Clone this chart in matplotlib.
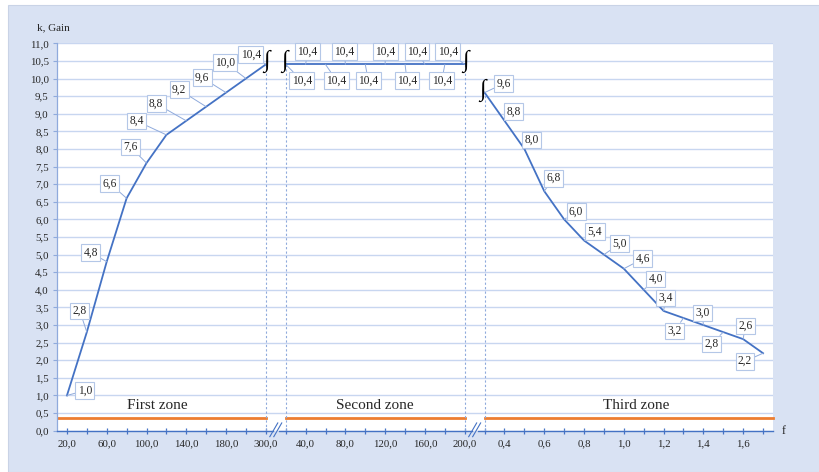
import matplotlib
matplotlib.use("Agg")
import matplotlib.pyplot as plt
from matplotlib.patches import Rectangle

# data: three frequency zones on one category axis
zone1_f = [20, 40, 60, 80, 100, 120, 140, 160, 180, 200, 300]
zone1_k = [1.0, 2.8, 4.8, 6.6, 7.6, 8.4, 8.8, 9.2, 9.6, 10.0, 10.4]
zone2_f = [20, 40, 60, 80, 100, 120, 140, 160, 180, 200]
zone2_k = [10.4, 10.4, 10.4, 10.4, 10.4, 10.4, 10.4, 10.4, 10.4, 10.4]
zone3_f = [0.3, 0.4, 0.5, 0.6, 0.7, 0.8, 0.9, 1.0, 1.1, 1.2, 1.3, 1.4, 1.5, 1.6, 1.7]
zone3_k = [9.6, 8.8, 8.0, 6.8, 6.0, 5.4, 5.0, 4.6, 4.0, 3.4, 3.2, 3.0, 2.8, 2.6, 2.2]
zone_names = ["First zone", "Second zone", "Third zone"]
zone_level = 0.37

# label offsets in pixels (dx, dy up)
off1 = [(18, 5), (-7, 21), (-16, 9), (-17, 15), (-16, 16), (-30, 14),
        (-30, 17), (-27, 17), (-24, 15), (-21, 16), (-15, 10)]
off2 = [(16, -16), (2, 13), (11, -16), (-1, 13), (3, -16), (0, 13),
        (2, -16), (-8, 13), (-3, -16), (-17, 13)]
off3 = [(19, 9), (9, 9), (7, 9), (9, 13), (12, 8), (11, 9), (16, 11),
        (19, 10), (12, 11), (2, 13), (-9, -13), (-1, 12), (-12, -12),
        (2, 13), (-18, -8)]

BLUE = "#4472C4"
LIGHT = "#8FAADC"
GRID = "#C8D6F0"
ORANGE = "#ED7D31"
TXT = "#262626"
SERIF = ["Liberation Serif", "DejaVu Serif"]


def fmt(v):
    return f"{v:.1f}".replace(".", ",")


plt.rcParams["font.family"] = SERIF

fig = plt.figure(figsize=(8.2, 4.72), dpi=100, facecolor="white")
fig.patches.append(Rectangle((8 / 820, 0), 1, 467 / 472, transform=fig.transFigure,
                             facecolor="#D9E2F3", edgecolor="#C9D3E6", lw=0.8, zorder=-1))
ax = fig.add_axes([57 / 820, 41.3 / 472, 716 / 820, 387.4 / 472])
ax.set_facecolor("white")

n1, n2, n3 = len(zone1_f), len(zone2_f), len(zone3_f)
x1 = list(range(n1))
x2 = list(range(n1, n1 + n2))
x3 = list(range(n1 + n2, n1 + n2 + n3))
cats = [fmt(v) for v in zone1_f + zone2_f + zone3_f]

ax.set_xlim(-0.5, len(cats) - 0.5)
ax.set_ylim(0, 11)

# grid
ax.set_yticks([i * 0.5 for i in range(23)])
ax.set_yticklabels([fmt(i * 0.5) for i in range(23)], fontsize=7.8, color=TXT)
ax.yaxis.grid(True, color=GRID, lw=1.0)
ax.set_axisbelow(True)

ax.set_xticks(range(len(cats)))
ax.set_xticklabels([c if i % 2 == 0 else "" for i, c in enumerate(cats)],
                   fontsize=7.8, color=TXT)
ax.tick_params(axis="x", direction="inout", length=5, color=BLUE, width=0.9, pad=4)
ax.tick_params(axis="y", direction="out", length=3, color=LIGHT, width=0.8, pad=3)

for s in ["top", "right", "bottom"]:
    ax.spines[s].set_visible(False)
ax.spines["left"].set_color(LIGHT)
ax.spines["left"].set_linewidth(0.9)

# x axis drawn in pieces with breaks
for a, b in [(-0.5, 10.35), (10.65, 20.35), (20.65, len(cats) - 0.5)]:
    ax.plot([a, b], [0, 0], color=BLUE, lw=1.0, clip_on=False, zorder=3)
for xb in [10.5, 20.5]:
    for d in [-0.1, 0.1]:
        ax.plot([xb + d - 0.2, xb + d + 0.2], [-0.17, 0.22], color=BLUE, lw=0.8,
                clip_on=False, zorder=3)

# zone bars and names
ax.plot([-0.5, x1[-1]], [zone_level] * 2, color=ORANGE, lw=2.0)
ax.plot([x2[0], x2[-1]], [zone_level] * 2, color=ORANGE, lw=2.0)
ax.plot([x3[0], len(cats) - 0.5], [zone_level] * 2, color=ORANGE, lw=2.0, clip_on=False)
for name, xc in zip(zone_names, [4.55, 15.5, 28.6]):
    ax.text(xc, 0.72, name, ha="center", va="center", fontsize=11, color=TXT)

# dashed boundaries
for xi, yi in [(x1[-1], zone1_k[-1]), (x2[0], zone2_k[0]),
               (x2[-1], zone2_k[-1]), (x3[0], zone3_k[0])]:
    ax.plot([xi, xi], [0, yi], color=LIGHT, lw=0.8, ls=(0, (2, 2)))

# curves
for xs, ks, offs in [(x1, zone1_k, off1), (x2, zone2_k, off2), (x3, zone3_k, off3)]:
    ax.plot(xs, ks, color=BLUE, lw=1.3, zorder=4)
    for xi, ki, (dx, dy) in zip(xs, ks, offs):
        ax.annotate(fmt(ki), (xi, ki), xytext=(dx, dy), textcoords="offset pixels",
                    ha="center", va="center", fontsize=8.3, color=TXT, zorder=5,
                    bbox=dict(boxstyle="square,pad=0.2", fc="white", ec="#B4C7E7", lw=0.8),
                    arrowprops=dict(arrowstyle="-", color=LIGHT, lw=0.7,
                                    shrinkA=0, shrinkB=0))

# break symbols
for xi, yi in [(x1[-1] + 0.05, 10.5), (x2[0] - 0.05, 10.5),
               (x2[-1] + 0.05, 10.5), (x3[0] - 0.1, 9.65)]:
    ax.text(xi, yi, "\u222b", ha="center", va="center", fontsize=17, color="black", zorder=6)

ax.text(-1.5, 11.45, "k, Gain", ha="left", va="center", fontsize=8, color=TXT,
        clip_on=False)
ax.text(len(cats) - 0.05, 0, "f", ha="left", va="center", fontsize=8.5, color=TXT,
        clip_on=False)

fig.savefig("out.png", dpi=100, facecolor=fig.get_facecolor())
